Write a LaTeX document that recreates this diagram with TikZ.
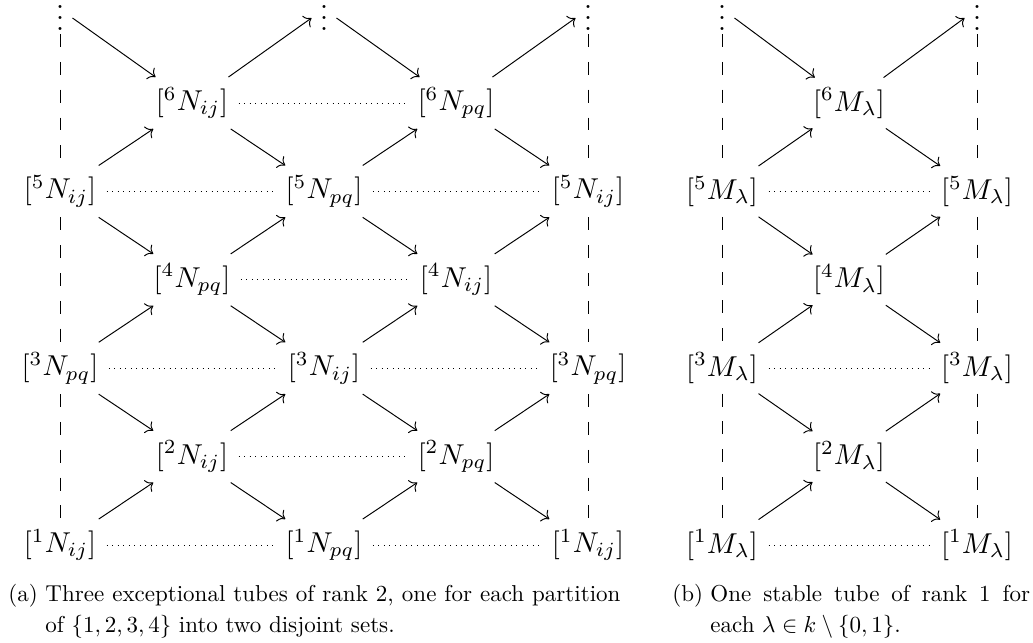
\documentclass[tikz,border=0pt]{standalone}
\usepackage{graphicx}
\usetikzlibrary{arrows.meta}
\newcommand\myvdots{\scalebox{1.25}{\vbox{\baselineskip3.68pt\lineskiplimit0pt\hbox{.}\hbox{.}\hbox{.}}}}
\newcommand\objtxt[1]{\scalebox{1.25}{$#1$}}
\begin{document}
\begin{tikzpicture}[x=0.43478pt,y=-0.43478pt,
  obj/.style={inner xsep=4.4pt, inner ysep=4.2pt},
  dts/.style={inner xsep=3.5pt, inner ysep=1.5pt},
  arr/.style={-{Computer Modern Rightarrow[scale=1.15]}, line width=0.42pt},
  hor/.style={dotted, line width=0.4pt},
  ver/.style={dash pattern=on 5.6pt off 6.5pt, line width=0.4pt},
  captext/.style={inner sep=0pt, anchor=base west, font=\fontsize{10}{12}\selectfont}]
\useasboundingbox (0,0) rectangle (1033,642);
% ---------- (a) ----------
\node[dts] (v0) at (60,18) {\myvdots};
\node[dts] (v2) at (324,18) {\myvdots};
\node[dts] (v4) at (588,18) {\myvdots};
\node[obj] (a16) at (192,103) {\objtxt{[^6N_{ij}]}};
\node[obj] (a36) at (456,103) {\objtxt{[^6N_{pq}]}};
\node[obj] (a05) at (60,191.4) {\objtxt{[^5N_{ij}]}};
\node[obj] (a25) at (324,191.4) {\objtxt{[^5N_{pq}]}};
\node[obj] (a45) at (588,191.4) {\objtxt{[^5N_{ij}]}};
\node[obj] (a14) at (192,279.8) {\objtxt{[^4N_{pq}]}};
\node[obj] (a34) at (456,279.8) {\objtxt{[^4N_{ij}]}};
\node[obj] (a03) at (60,368.2) {\objtxt{[^3N_{pq}]}};
\node[obj] (a23) at (324,368.2) {\objtxt{[^3N_{ij}]}};
\node[obj] (a43) at (588,368.2) {\objtxt{[^3N_{pq}]}};
\node[obj] (a12) at (192,456.6) {\objtxt{[^2N_{ij}]}};
\node[obj] (a32) at (456,456.6) {\objtxt{[^2N_{pq}]}};
\node[obj] (a01) at (60,545) {\objtxt{[^1N_{ij}]}};
\node[obj] (a21) at (324,545) {\objtxt{[^1N_{pq}]}};
\node[obj] (a41) at (588,545) {\objtxt{[^1N_{ij}]}};
\draw[arr] (v0.east) -- (a16);
\draw[arr] (a16) -- (v2.west);
\draw[arr] (v2.east) -- (a36);
\draw[arr] (a36) -- (v4.west);
\draw[arr] (a05) -- (a16);
\draw[arr] (a16) -- (a25);
\draw[arr] (a25) -- (a36);
\draw[arr] (a36) -- (a45);
\draw[arr] (a05) -- (a14);
\draw[arr] (a14) -- (a25);
\draw[arr] (a25) -- (a34);
\draw[arr] (a34) -- (a45);
\draw[arr] (a03) -- (a14);
\draw[arr] (a14) -- (a23);
\draw[arr] (a23) -- (a34);
\draw[arr] (a34) -- (a43);
\draw[arr] (a03) -- (a12);
\draw[arr] (a12) -- (a23);
\draw[arr] (a23) -- (a32);
\draw[arr] (a32) -- (a43);
\draw[arr] (a01) -- (a12);
\draw[arr] (a12) -- (a21);
\draw[arr] (a21) -- (a32);
\draw[arr] (a32) -- (a41);
\draw[hor] (a16) -- (a36);
\draw[hor] (a05) -- (a25);
\draw[hor] (a25) -- (a45);
\draw[hor] (a14) -- (a34);
\draw[hor] (a03) -- (a23);
\draw[hor] (a23) -- (a43);
\draw[hor] (a12) -- (a32);
\draw[hor] (a01) -- (a21);
\draw[hor] (a21) -- (a41);
\draw[ver] (v0) -- (a05);
\draw[ver] (a05) -- (a03);
\draw[ver] (a03) -- (a01);
\draw[ver] (v4) -- (a45);
\draw[ver] (a45) -- (a43);
\draw[ver] (a43) -- (a41);
% ---------- (b) ----------
\node[dts] (w0) at (722,18) {\myvdots};
\node[dts] (w2) at (977,18) {\myvdots};
\node[obj] (b16) at (849,103) {\objtxt{[^6M_{\lambda}]}};
\node[obj] (b05) at (722,191.4) {\objtxt{[^5M_{\lambda}]}};
\node[obj] (b25) at (977,191.4) {\objtxt{[^5M_{\lambda}]}};
\node[obj] (b14) at (849,279.8) {\objtxt{[^4M_{\lambda}]}};
\node[obj] (b03) at (722,368.2) {\objtxt{[^3M_{\lambda}]}};
\node[obj] (b23) at (977,368.2) {\objtxt{[^3M_{\lambda}]}};
\node[obj] (b12) at (849,456.6) {\objtxt{[^2M_{\lambda}]}};
\node[obj] (b01) at (722,545) {\objtxt{[^1M_{\lambda}]}};
\node[obj] (b21) at (977,545) {\objtxt{[^1M_{\lambda}]}};
\draw[arr] (w0.east) -- (b16);
\draw[arr] (b16) -- (w2.west);
\draw[arr] (b05) -- (b16);
\draw[arr] (b16) -- (b25);
\draw[arr] (b05) -- (b14);
\draw[arr] (b14) -- (b25);
\draw[arr] (b03) -- (b14);
\draw[arr] (b14) -- (b23);
\draw[arr] (b03) -- (b12);
\draw[arr] (b12) -- (b23);
\draw[arr] (b01) -- (b12);
\draw[arr] (b12) -- (b21);
\draw[hor] (b05) -- (b25);
\draw[hor] (b03) -- (b23);
\draw[hor] (b01) -- (b21);
\draw[ver] (w0) -- (b05);
\draw[ver] (b05) -- (b03);
\draw[ver] (b03) -- (b01);
\draw[ver] (w2) -- (b25);
\draw[ver] (b25) -- (b23);
\draw[ver] (b23) -- (b21);
% ---------- captions ----------
\node[captext] (ca0) at (8,601) {(a)};
\node[captext] (ca1) at (45,601) {\makebox[250pt][s]{Three exceptional tubes of rank 2, one for each partition}};
\node[captext] (ca2) at (45,632) {of $\{1,2,3,4\}$ into two disjoint sets.};
\node[captext] (cb0) at (672,601) {(b)};
\node[captext] (cb1) at (710,601) {\makebox[139pt][s]{One stable tube of rank 1 for}};
\node[captext] (cb2) at (710,632) {each $\lambda\in k\setminus\{0,1\}$.};
\end{tikzpicture}
\end{document}
